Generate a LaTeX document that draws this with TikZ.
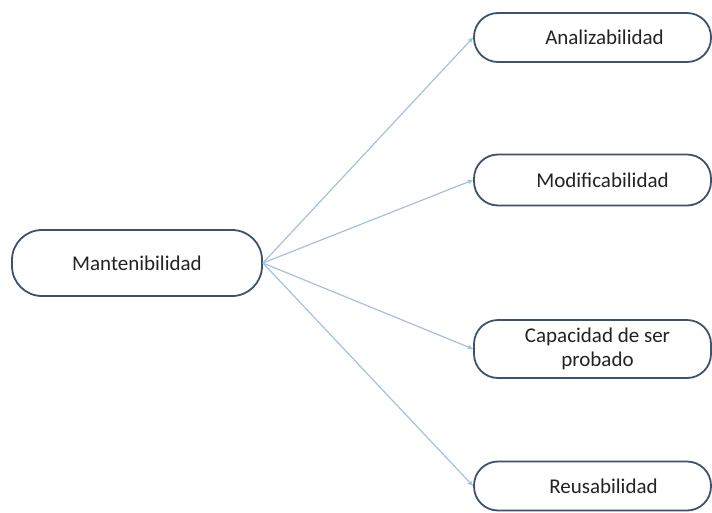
\documentclass[tikz,border=0pt]{standalone}
\usepackage{fontspec}
\setmainfont{Carlito}
\usetikzlibrary{arrows.meta}
\definecolor{boxline}{RGB}{62,82,112}
\definecolor{linkline}{RGB}{165,192,222}
\definecolor{labeltext}{RGB}{35,35,35}
\tikzset{
  pill/.style={draw=boxline, line width=1.8pt, rounded corners=24pt, fill=white,
    text=labeltext, font=\fontsize{21}{24}\selectfont, align=center,
    minimum width=237pt, inner sep=0pt},
  mainpill/.style={pill, rounded corners=30pt, minimum width=250pt, minimum height=66pt},
  link/.style={draw=linkline, line width=1.2pt, -{Stealth[length=6pt,width=5pt]}}
}
\begin{document}
\begin{tikzpicture}[x=1pt,y=-1pt]
  \useasboundingbox (0,0) rectangle (712,512);
  \node[mainpill] (m) at (137,263) {Mantenibilidad};
  \node[pill, minimum height=49pt] (a) at (592.5,37.5) {\hspace*{24pt}Analizabilidad};
  \node[pill, minimum height=51pt] (b) at (592.5,180) {\hspace*{20pt}Modificabilidad};
  \node[pill, minimum height=58pt] (c) at (592.5,349) {\hspace*{10pt}Capacidad de ser\\\hspace*{10pt}probado};
  \node[pill, minimum height=49pt] (d) at (592.5,486) {\hspace*{22pt}Reusabilidad};
  \draw[link] (m.east) -- (a.west);
  \draw[link] (m.east) -- (b.west);
  \draw[link] (m.east) -- (c.west);
  \draw[link] (m.east) -- (d.west);
\end{tikzpicture}
\end{document}
